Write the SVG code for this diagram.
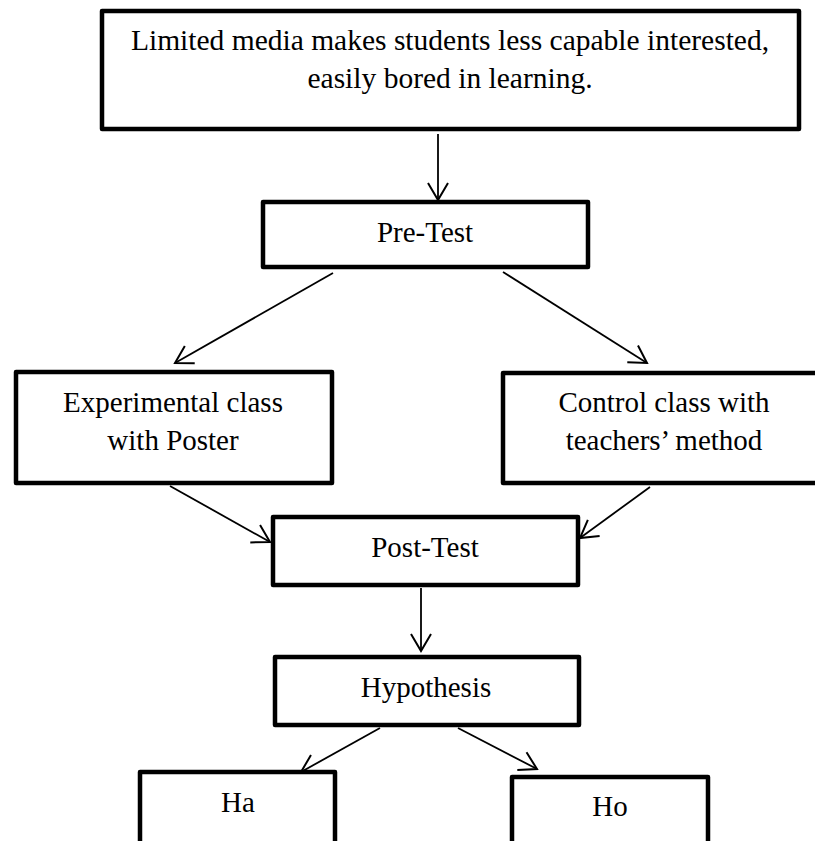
<svg xmlns="http://www.w3.org/2000/svg" width="815" height="841" viewBox="0 0 815 841">
  <style>
    .box { fill: #ffffff; stroke: #000000; stroke-width: 4.5; stroke-linejoin: round; }
    .lbl { font-family: "Liberation Serif", "Times New Roman", serif; font-size: 29px; fill: #000000; text-anchor: middle; }
    .big { font-size: 29.5px; }
    .conn { stroke: #000000; stroke-width: 1.8; fill: none; marker-end: url(#arrow); }
  </style>
  <defs>
    <marker id="arrow" markerUnits="userSpaceOnUse" viewBox="-19 -12 21 24" refX="0" refY="0" markerWidth="21" markerHeight="24" orient="auto">
      <path d="M-17,-10 L0,0 L-17,10" fill="none" stroke="#000000" stroke-width="2"/>
    </marker>
  </defs>
  <rect width="815" height="841" fill="#ffffff"/>

  <g id="connectors">
    <line class="conn" x1="438" y1="134" x2="438" y2="200"/>
    <line class="conn" x1="333" y1="273" x2="175" y2="363"/>
    <line class="conn" x1="503" y1="272" x2="647" y2="363"/>
    <line class="conn" x1="170" y1="486" x2="270" y2="542"/>
    <line class="conn" x1="650" y1="487" x2="580" y2="538"/>
    <line class="conn" x1="421" y1="588" x2="421" y2="651"/>
    <line class="conn" x1="380" y1="728" x2="301" y2="772"/>
    <line class="conn" x1="458" y1="728" x2="537" y2="769"/>
  </g>

  <g id="problem">
    <rect class="box" x="102" y="11" width="697" height="118"/>
    <text class="lbl big" x="450" y="50">Limited media makes students less capable interested,</text>
    <text class="lbl big" x="450" y="88">easily bored in learning.</text>
  </g>

  <g id="pretest">
    <rect class="box" x="263" y="202" width="325" height="65"/>
    <text class="lbl" x="425" y="242">Pre-Test</text>
  </g>

  <g id="experimental">
    <rect class="box" x="16" y="372" width="316" height="111"/>
    <text class="lbl" x="173" y="412">Experimental class</text>
    <text class="lbl" x="173" y="450">with Poster</text>
  </g>

  <g id="control">
    <rect class="box" x="503" y="373" width="330" height="110"/>
    <text class="lbl" x="664" y="412">Control class with</text>
    <text class="lbl" x="664" y="450">teachers’ method</text>
  </g>

  <g id="posttest">
    <rect class="box" x="273" y="517" width="305" height="68"/>
    <text class="lbl" x="425" y="557">Post-Test</text>
  </g>

  <g id="hypothesis">
    <rect class="box" x="275" y="657" width="304" height="68"/>
    <text class="lbl" x="426" y="697">Hypothesis</text>
  </g>

  <g id="ha">
    <rect class="box" x="140" y="772" width="195" height="90"/>
    <text class="lbl" x="238" y="812">Ha</text>
  </g>

  <g id="ho">
    <rect class="box" x="512" y="777" width="196" height="90"/>
    <text class="lbl" x="610" y="816">Ho</text>
  </g>
</svg>
